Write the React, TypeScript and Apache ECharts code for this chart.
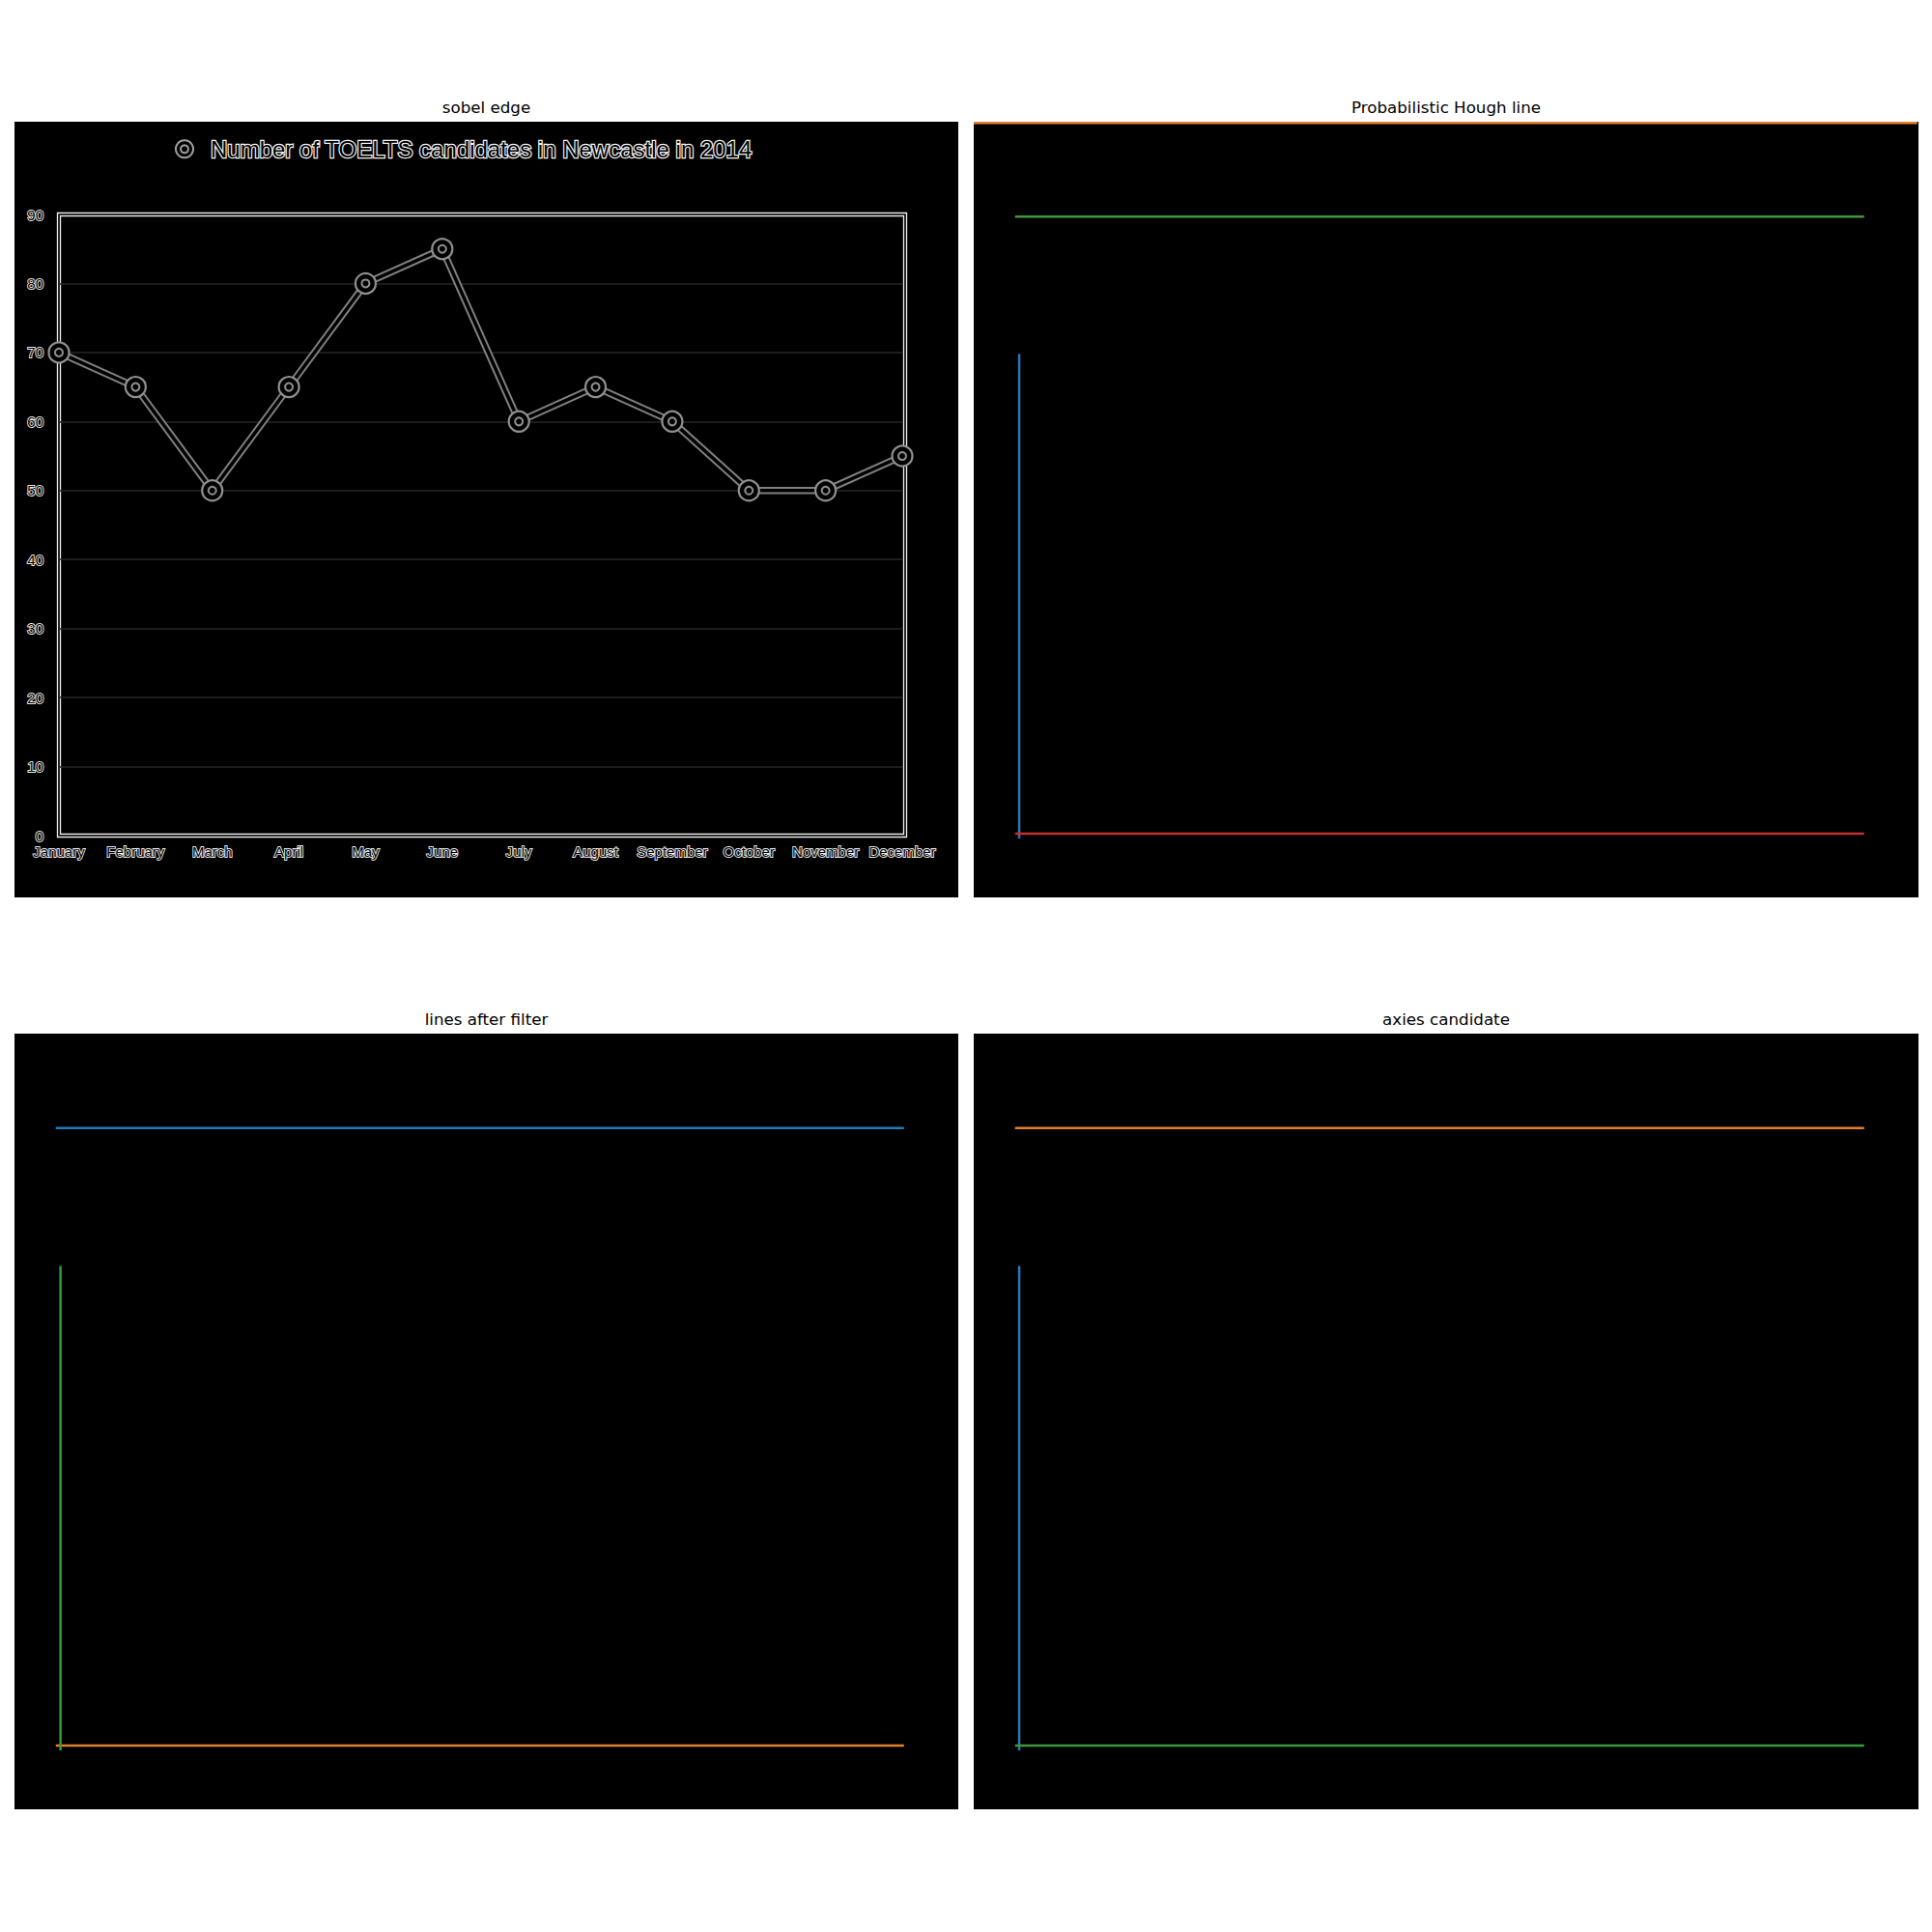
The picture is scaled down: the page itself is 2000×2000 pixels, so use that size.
import React, { useEffect, useRef } from "react";
import * as echarts from "echarts";

// ---- data ----
const months = [
  "January", "February", "March", "April", "May", "June",
  "July", "August", "September", "October", "November", "December",
];
const candidates = [70, 65, 50, 65, 80, 85, 60, 65, 60, 50, 50, 55];
const seriesTitle = "Number of TOELTS candidates in Newcastle in 2014";

const panelTitles = ["sobel edge", "Probabilistic Hough line", "lines after filter", "axies candidate"];

// detected segments in source-image pixel coordinates [x1, y1, x2, y2]
const imageWidth = 800;
const imageHeight = 658;
const houghSegments = [
  [38.5, 197, 38.5, 608],
  [0, 1.1, 799, 1.1],
  [35, 80.5, 754, 80.5],
  [35, 604, 754, 604],
];
const filteredSegments = [
  [35, 80, 754, 80],
  [35, 604, 754, 604],
  [39, 197, 39, 608],
];
const axisCandidateSegments = [
  [38.5, 197, 38.5, 608],
  [35, 80, 754, 80],
  [35, 604, 754, 604],
];

const cycle = ["#2a78b8", "#e2802f", "#3a993d", "#c52f2f"];

export default function App() {
  const ref = useRef<HTMLDivElement>(null);

  useEffect(() => {
    if (!ref.current) return;
    const chart = echarts.init(ref.current, undefined, { renderer: "svg" });

    const panels = [
      { left: 15, top: 126, width: 977, height: 803 },
      { left: 1008, top: 126, width: 978, height: 803 },
      { left: 15, top: 1070, width: 977, height: 803 },
      { left: 1008, top: 1070, width: 978, height: 803 },
    ];

    const grids: any[] = panels.map((p) => ({
      ...p,
      show: true,
      backgroundColor: "#000",
      borderWidth: 0,
    }));
    // inner chart grid (index 4)
    grids.push({ left: 61, top: 222, width: 873, height: 643, show: false });
    // frame (edge double lines) grids 5, 6
    grids.push({ left: 59.5, top: 220.5, width: 879, height: 646, show: true, backgroundColor: "transparent", borderColor: "#f0f0f0", borderWidth: 1.3 });
    grids.push({ left: 62.5, top: 223.5, width: 873, height: 640, show: true, backgroundColor: "transparent", borderColor: "#f0f0f0", borderWidth: 1.3 });

    const labelText = {
      color: "#000",
      textBorderColor: "#eeeeee",
      textBorderWidth: 1.8,
      fontFamily: "Liberation Sans",
      fontSize: 15,
    };

    const xAxes: any[] = [
      {
        type: "category",
        gridIndex: 4,
        data: months,
        boundaryGap: false,
        axisLine: { show: false },
        axisTick: { show: false },
        axisLabel: { ...labelText, margin: 9, interval: 0 },
        splitLine: { show: false },
      },
    ];
    const yAxes: any[] = [
      {
        type: "value",
        gridIndex: 4,
        min: 0,
        max: 90,
        interval: 10,
        axisLine: { show: false },
        axisTick: { show: false },
        axisLabel: { ...labelText, margin: 16 },
        splitLine: { show: true, lineStyle: { color: "#262626", width: 1.5 } },
      },
    ];
    for (let g = 1; g <= 3; g++) {
      xAxes.push({ type: "value", gridIndex: g, min: 0, max: imageWidth, show: false });
      yAxes.push({ type: "value", gridIndex: g, min: 0, max: imageHeight, inverse: true, show: false });
    }

    const series: any[] = [
      {
        type: "line",
        name: "edgeOuter",
        xAxisIndex: 0,
        yAxisIndex: 0,
        data: candidates,
        symbol: "none",
        lineStyle: { color: "#808080", width: 7.5 },
        z: 2,
        silent: true,
      },
      {
        type: "line",
        name: "edgeInner",
        xAxisIndex: 0,
        yAxisIndex: 0,
        data: candidates,
        symbol: "none",
        lineStyle: { color: "#000", width: 3.5 },
        z: 3,
        silent: true,
      },
      {
        type: "line",
        name: seriesTitle,
        xAxisIndex: 0,
        yAxisIndex: 0,
        data: candidates,
        symbol: "circle",
        symbolSize: 21,
        showSymbol: true,
        lineStyle: { width: 0, opacity: 0 },
        itemStyle: { color: "#000", borderColor: "#909090", borderWidth: 2.2 },
        z: 4,
      },
      {
        type: "line",
        name: "innerRing",
        xAxisIndex: 0,
        yAxisIndex: 0,
        data: candidates,
        symbol: "circle",
        symbolSize: 8,
        showSymbol: true,
        lineStyle: { width: 0, opacity: 0 },
        itemStyle: { color: "#000", borderColor: "#909090", borderWidth: 2 },
        z: 5,
      },
    ];

    const segmentSets = [houghSegments, filteredSegments, axisCandidateSegments];
    segmentSets.forEach((segs, i) => {
      segs.forEach((s, j) => {
        series.push({
          type: "line",
          name: `seg-${i}-${j}`,
          xAxisIndex: i + 1,
          yAxisIndex: i + 1,
          data: [[s[0], s[1]], [s[2], s[3]]],
          symbol: "none",
          clip: false,
          lineStyle: { color: cycle[j % cycle.length], width: 2.5 },
          z: 2,
        });
      });
    });

    const titleGraphics = panelTitles.map((t, i) => ({
      type: "text",
      x: panels[i].left + panels[i].width / 2,
      y: panels[i].top - 15,
      style: {
        text: t,
        align: "center",
        verticalAlign: "middle",
        fill: "#000",
        font: "16.7px 'DejaVu Sans'",
      },
    }));

    chart.setOption({
      animation: false,
      backgroundColor: "#fff",
      grid: grids,
      xAxis: xAxes,
      yAxis: yAxes,
      legend: {
        data: [seriesTitle],
        left: 181,
        top: 141,
        padding: 0,
        icon: "path://M9,0A9,9,0,1,1,8.99,0ZM9,5A4,4,0,1,1,8.99,5Z",
        itemWidth: 18,
        itemHeight: 18,
        itemStyle: { color: "#000", borderColor: "#a0a0a0", borderWidth: 2 },
        textStyle: {
          color: "#000",
          textBorderColor: "#f4f4f4",
          textBorderWidth: 2.4,
          fontFamily: "Liberation Sans",
          fontSize: 24,
          padding: [0, 0, 0, 13],
        },
      },
      graphic: titleGraphics,
      series,
    });

    return () => chart.dispose();
  }, []);

  return (
    <div
      ref={ref}
      style={{ position: "absolute", left: 0, top: 0, width: 2000, height: 2000, background: "#fff" }}
    />
  );
}
